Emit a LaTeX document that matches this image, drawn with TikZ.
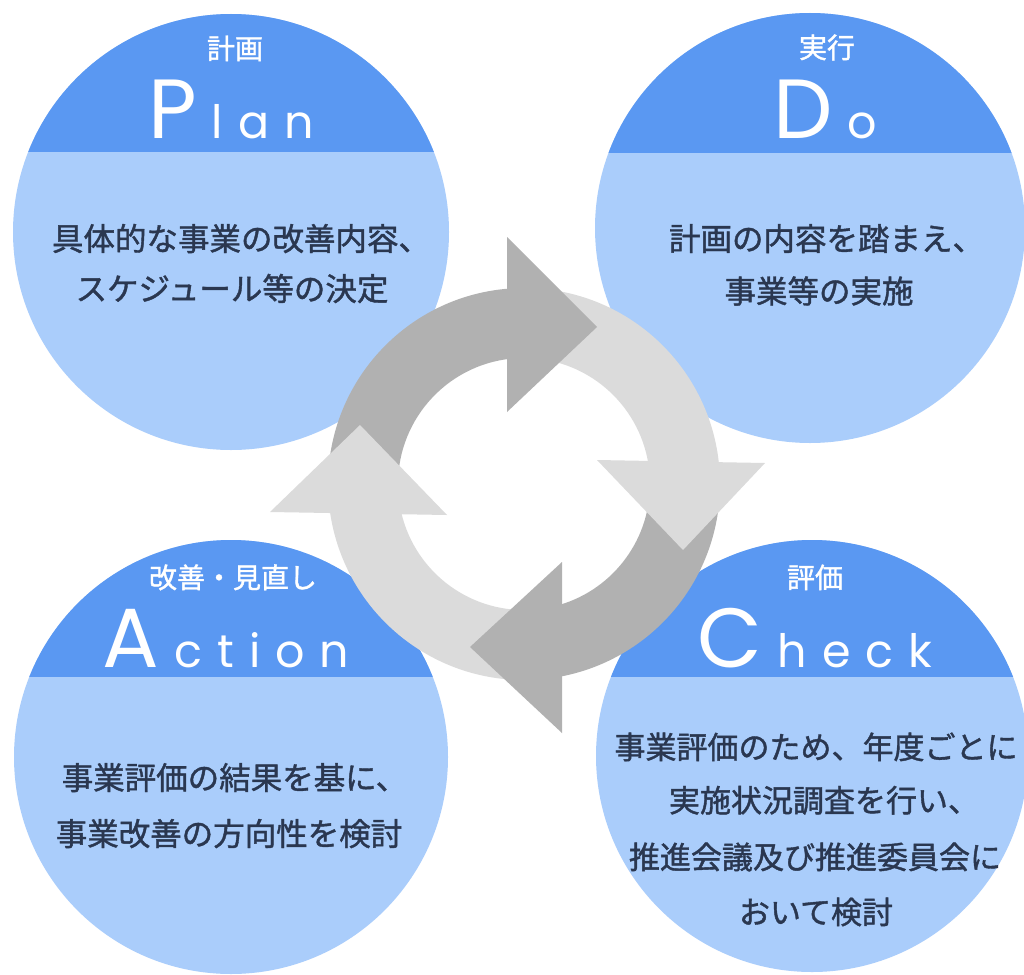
\documentclass[tikz,border=0pt]{standalone}
\usepackage{fontspec}
\setmainfont{Poppins}
\newfontfamily\jpfont{Noto Sans CJK JP}[FakeBold=1.3]
\newfontfamily\ttlfont{Poppins}
\definecolor{hdrblue}{RGB}{90,152,242}
\definecolor{bodyblue}{RGB}{170,205,251}
\definecolor{ringdark}{RGB}{177,177,177}
\definecolor{ringlight}{RGB}{219,219,219}
\definecolor{txtnavy}{RGB}{42,55,80}
\newcommand\bigTitle[2]{{\fontsize{84}{84}\selectfont #1}\kern15pt{\fontsize{46}{46}\selectfont #2}}
\newcommand\pdcaCircle[4]{%
  \fill[bodyblue] (#1,#2) circle[radius=#3];
  \begin{scope}
    \clip (#1,#2) circle[radius=#3];
    \fill[hdrblue] (#1-#3-2,#2-#3-2) rectangle (#1+#3+2,#4);
  \end{scope}}
\tikzset{
  jpline/.style={anchor=base, text=txtnavy, inner sep=0pt, font=\jpfont\fontsize{31.5}{31.5}\selectfont},
  jplinesm/.style={jpline, font=\jpfont\fontsize{31}{31}\selectfont},
  subttl/.style={anchor=base, text=white, inner sep=0pt, font=\jpfont\fontsize{28}{28}\selectfont},
  bigttl/.style={anchor=base, text=white, inner sep=0pt, font=\ttlfont},
}
\begin{document}
\begin{tikzpicture}[x=1pt,y=-1pt]
\useasboundingbox (0,0) rectangle (1024,974);
\clip (0,0) rectangle (1024,974);
\fill[white] (0,0) rectangle (1024,974);

% circles
\pdcaCircle{231}{232}{218}{152}
\pdcaCircle{810}{228}{215}{153}
\pdcaCircle{231}{757}{217}{677}
\pdcaCircle{812}{756}{216}{677}

% ring bodies
\begin{scope}[shift={(524,484)}]
  \fill[ringlight] (90:196) arc[start angle=90,end angle=172,radius=196] -- (172:126) arc[start angle=172,end angle=90,radius=126] -- cycle;
  \fill[ringdark] (180:196) arc[start angle=180,end angle=267,radius=196] -- (267:126) arc[start angle=267,end angle=180,radius=126] -- cycle;
  \fill[ringlight] (275:196) arc[start angle=275,end angle=356,radius=196] -- (356:126) arc[start angle=356,end angle=275,radius=126] -- cycle;
  \fill[ringdark] (5:196) arc[start angle=5,end angle=81,radius=196] -- (81:126) arc[start angle=81,end angle=5,radius=126] -- cycle;
\end{scope}
% arrow heads
\fill[ringdark] (507,237) -- (507,412) -- (597,327) -- cycle;
\fill[ringlight] (597,460) -- (765,463) -- (683,550) -- cycle;
\fill[ringdark] (562,562) -- (562,733) -- (470,647) -- cycle;
\fill[ringlight] (270,512) -- (447,515) -- (360,425) -- cycle;

% Plan
\node[subttl] (planSub) at (235,59) {計画};
\node[bigttl] (planTtl) at (231,138) {\bigTitle{P}{l\kern15pt a\kern15pt n}};
\node[jpline] (plan1) at (241,250.5) {具体的な事業の改善内容、};
\node[jpline] (plan2) at (232,300.5) {スケジュール等の決定};

% Do
\node[subttl] (doSub) at (827,58) {実行};
\node[bigttl] (doTtl) at (825,138) {\bigTitle{D}{o}};
\node[jpline] (do1) at (826.5,250.5) {計画の内容を踏まえ、};
\node[jpline] (do2) at (819,303) {事業等の実施};

% Action
\node[subttl] (actSub) at (233,588) {改善・見直し};
\node[bigttl] (actTtl) at (226,667) {\bigTitle{A}{c\kern15pt t\kern15pt i\kern15pt o\kern15pt n}};
\node[jpline] (act1) at (234.5,789.5) {事業評価の結果を基に、};
\node[jpline] (act2) at (229,845.5) {事業改善の方向性を検討};

% Check
\node[subttl] (chkSub) at (815,588) {評価};
\node[bigttl] (chkTtl) at (815,667) {\bigTitle{C}{h\kern15pt e\kern15pt c\kern15pt k}};
\node[jplinesm] (chk1) at (816,758.7) {事業評価のため、年度ごとに};
\node[jplinesm] (chk2) at (824,812) {実施状況調査を行い、};
\node[jplinesm] (chk3) at (815,868.7) {推進会議及び推進委員会に};
\node[jplinesm] (chk4) at (816,923.7) {おいて検討};
\end{tikzpicture}
\end{document}
